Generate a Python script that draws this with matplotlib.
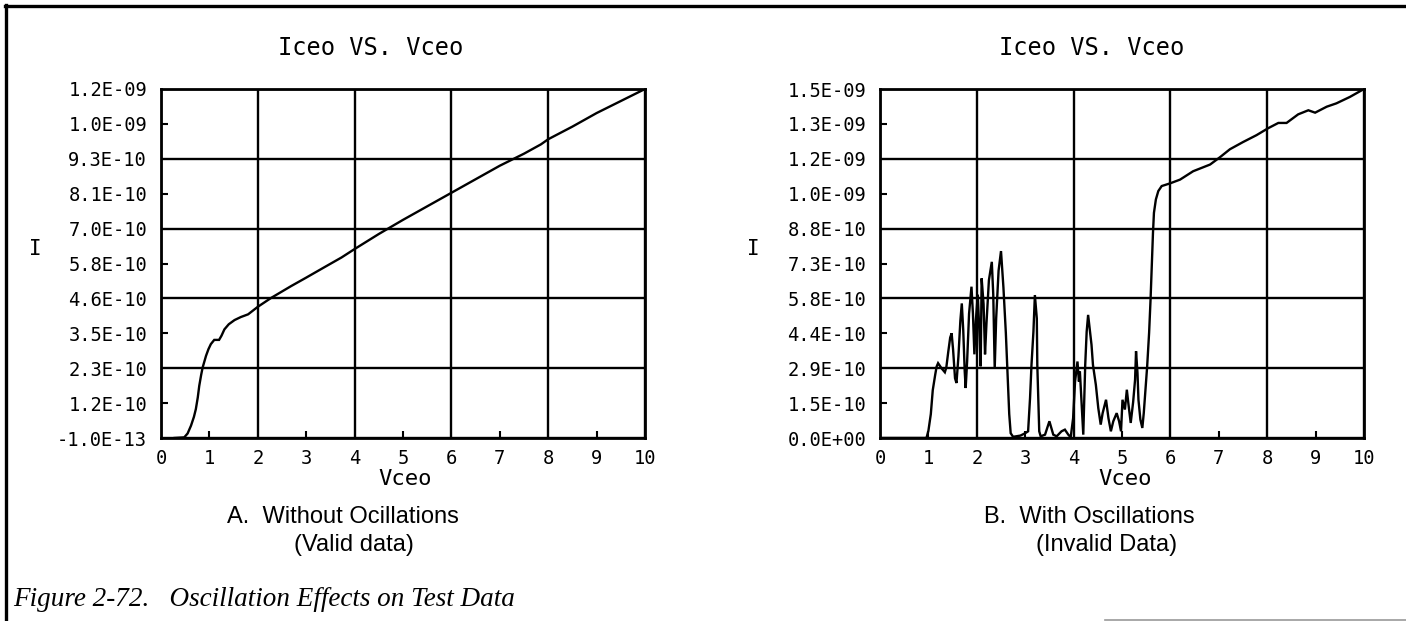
import numpy as np
import matplotlib
matplotlib.use("Agg")
import matplotlib.pyplot as plt
from matplotlib.lines import Line2D

# ---------------- data ----------------
# Panel A (without oscillations): Vceo (V), Iceo (units of 1e-10 A)
a_vceo = [0.28, 0.48, 0.55, 0.62, 0.68, 0.72, 0.76, 0.79, 0.83, 0.86, 0.93, 0.98,
          1.03, 1.10, 1.20, 1.25, 1.31, 1.40, 1.52, 1.65, 1.80, 2.00, 2.28, 2.69,
          3.00, 3.38, 3.73, 4.00, 4.50, 5.00, 5.50, 6.00, 6.50, 7.00, 7.50, 7.85,
          8.00, 8.50, 9.00, 9.50, 10.0]
a_iceo = [0.0, 0.02, 0.15, 0.41, 0.70, 0.96, 1.35, 1.73, 2.10, 2.34, 2.73, 2.95,
          3.12, 3.26, 3.26, 3.40, 3.61, 3.78, 3.92, 4.02, 4.11, 4.36, 4.66, 5.05,
          5.33, 5.68, 6.00, 6.28, 6.78, 7.25, 7.70, 8.15, 8.60, 9.05, 9.45, 9.76,
          9.93, 10.35, 10.80, 11.20, 11.60]

# Panel B (with oscillations)
b_vceo = [0.0, 0.96, 1.00, 1.05, 1.09, 1.14, 1.17, 1.20, 1.27, 1.34, 1.37, 1.41,
          1.45, 1.48, 1.51, 1.55, 1.58, 1.62, 1.66, 1.69, 1.72, 1.75, 1.77, 1.80,
          1.84, 1.89, 1.92, 1.95, 1.98, 2.02, 2.05, 2.08, 2.10, 2.14, 2.17, 2.20,
          2.25, 2.31, 2.34, 2.37, 2.40, 2.45, 2.50, 2.55, 2.60, 2.64, 2.67, 2.70,
          2.75, 2.90, 3.00, 3.06, 3.10, 3.13, 3.17, 3.20, 3.24, 3.25, 3.29, 3.32,
          3.41, 3.50, 3.58, 3.65, 3.75, 3.82, 3.89, 3.94, 3.99, 4.03, 4.08, 4.11,
          4.13, 4.17, 4.20, 4.24, 4.27, 4.30, 4.34, 4.37, 4.40, 4.46, 4.51, 4.56,
          4.60, 4.67, 4.72, 4.77, 4.82, 4.89, 4.94, 4.98, 5.01, 5.06, 5.10, 5.13,
          5.18, 5.23, 5.27, 5.29, 5.32, 5.34, 5.38, 5.42, 5.45, 5.49, 5.52, 5.56,
          5.59, 5.62, 5.64, 5.66, 5.70, 5.75, 5.82, 5.99, 6.20, 6.47, 6.82, 7.02,
          7.23, 7.50, 7.78, 8.02, 8.23, 8.40, 8.64, 8.85, 8.99, 9.23, 9.43, 9.71,
          10.0]
b_iceo = [0.0, 0.0, 0.30, 1.00, 2.00, 2.64, 2.99, 3.13, 2.92, 2.75, 2.95, 3.60,
          4.20, 4.38, 3.70, 2.50, 2.30, 3.40, 4.90, 5.63, 4.50, 2.80, 2.09, 3.20,
          5.20, 6.33, 5.20, 3.50, 4.90, 6.00, 4.60, 3.00, 6.68, 5.60, 3.50, 4.80,
          6.60, 7.37, 6.00, 2.90, 5.00, 7.00, 7.82, 6.30, 4.40, 2.50, 1.00, 0.20,
          0.05, 0.10, 0.20, 0.28, 1.67, 3.06, 4.45, 5.98, 5.00, 3.06, 0.28, 0.07,
          0.14, 0.70, 0.14, 0.07, 0.28, 0.35, 0.14, 0.03, 0.83, 2.36, 3.20, 2.36,
          2.78, 1.25, 0.14, 3.06, 4.45, 5.15, 4.45, 3.90, 3.06, 2.22, 1.25, 0.56,
          1.04, 1.60, 0.83, 0.28, 0.70, 1.04, 0.70, 0.28, 1.60, 1.19, 2.02, 1.47,
          0.63, 1.50, 2.44, 3.63, 2.72, 1.60, 0.77, 0.42, 1.05, 2.16, 3.00, 4.40,
          5.79, 7.47, 8.58, 9.42, 9.98, 10.33, 10.54, 10.65, 10.81, 11.16, 11.44, 11.74,
          12.08, 12.38, 12.67, 12.96, 13.18, 13.18, 13.54, 13.71, 13.61, 13.86, 14.00, 14.27,
          14.60]

x_tick_labels = ["0", "1", "2", "3", "4", "5", "6", "7", "8", "9", "10"]
a_ytick_labels = ["-1.0E-13", "1.2E-10", "2.3E-10", "3.5E-10", "4.6E-10", "5.8E-10",
                  "7.0E-10", "8.1E-10", "9.3E-10", "1.0E-09", "1.2E-09"]
b_ytick_labels = ["0.0E+00", "1.5E-10", "2.9E-10", "4.4E-10", "5.8E-10", "7.3E-10",
                  "8.8E-10", "1.0E-09", "1.2E-09", "1.3E-09", "1.5E-09"]
a_ylim = (-1.0e-13, 1.16e-9)
b_ylim = (0.0, 1.46e-9)
title_text = "Iceo VS. Vceo"
x_label = "Vceo"
y_label = "I"
caption_a = ["A.  Without Ocillations", "(Valid data)"]
caption_b = ["B.  With Oscillations", "(Invalid Data)"]
figure_caption = "Figure 2-72.   Oscillation Effects on Test Data"

# ---------------- figure ----------------
W, H = 1406, 621
fig = plt.figure(figsize=(W / 100, H / 100), dpi=100)
fig.patch.set_facecolor("white")

MONO = "DejaVu Sans Mono"

def px(x, y):
    return x / W, 1 - y / H

def make_panel(left_px, vceo, iceo_e10, ylim, ylabels):
    x0, _ = px(left_px, 0)
    ax = fig.add_axes([x0, 1 - 438 / H, 484 / W, (438 - 89) / H])
    iceo = np.array(iceo_e10) * 1e-10
    ax.plot(vceo, iceo, color="black", lw=1.7, solid_joinstyle="miter")
    ax.set_xlim(0, 10)
    ax.set_ylim(*ylim)
    ypos = np.linspace(ylim[0], ylim[1], len(ylabels))
    xpos = np.arange(len(x_tick_labels))
    ax.set_xticks(xpos[::2])
    ax.set_xticks(xpos[1::2], minor=True)
    ax.set_xticklabels(x_tick_labels[::2])
    ax.set_xticklabels(x_tick_labels[1::2], minor=True)
    ax.set_yticks(ypos[::2])
    ax.set_yticks(ypos[1::2], minor=True)
    ax.set_yticklabels(ylabels[::2])
    ax.set_yticklabels(ylabels[1::2], minor=True)
    ax.grid(True, which="major", color="black", lw=1.7)
    ax.tick_params(which="major", length=0, pad=10)
    ax.tick_params(which="minor", length=5, width=1.5, direction="in", pad=10)
    ax.tick_params(axis="x", which="both", pad=8)
    for lab in ax.get_xticklabels(which="both") + ax.get_yticklabels(which="both"):
        lab.set_fontfamily(MONO)
        lab.set_fontsize(13.5)
    for s in ax.spines.values():
        s.set_linewidth(2.0)
    return ax

ax_a = make_panel(161, a_vceo, a_iceo, a_ylim, a_ytick_labels)
ax_b = make_panel(880, b_vceo, b_iceo, b_ylim, b_ytick_labels)

def ftext(x, y, s, **kw):
    fx, fy = px(x, y)
    fig.text(fx, fy, s, **kw)

# titles and axis labels
for tx, ix, vx in [(371, 48, 405), (1092, 48, 1125)]:
    pass
for tx, ix, vx in [(371, 35, 405), (1092, 753, 1125)]:
    ftext(tx, 48, title_text, family=MONO, fontsize=17, ha="center", va="center")
    ftext(ix, 249, y_label, family=MONO, fontsize=15, ha="center", va="center")
    ftext(vx, 479, x_label, family=MONO, fontsize=16, ha="center", va="center")

# captions
CAP = dict(family="Liberation Sans", fontsize=17, ha="center", va="center")
ftext(343, 517, caption_a[0], **CAP)
ftext(354, 545, caption_a[1], **CAP)
ftext(1089, 517, caption_b[0], **CAP)
ftext(1107, 545, caption_b[1], **CAP)
ftext(13, 600, figure_caption, family="Liberation Serif", style="italic", fontsize=19.5,
      ha="left", va="center")

# frame lines
fig.add_artist(Line2D([5 / W, 1.0], [1 - 6 / H, 1 - 6 / H], color="black", lw=2.4,
                      transform=fig.transFigure))
fig.add_artist(Line2D([6 / W, 6 / W], [0.0, 1 - 5 / H], color="black", lw=2.4,
                      transform=fig.transFigure))
fig.add_artist(Line2D([1105 / W, 1.0], [1 - 619.5 / H, 1 - 619.5 / H], color="#999999",
                      lw=1.2, transform=fig.transFigure))

fig.savefig("out.png", dpi=100, facecolor="white")
